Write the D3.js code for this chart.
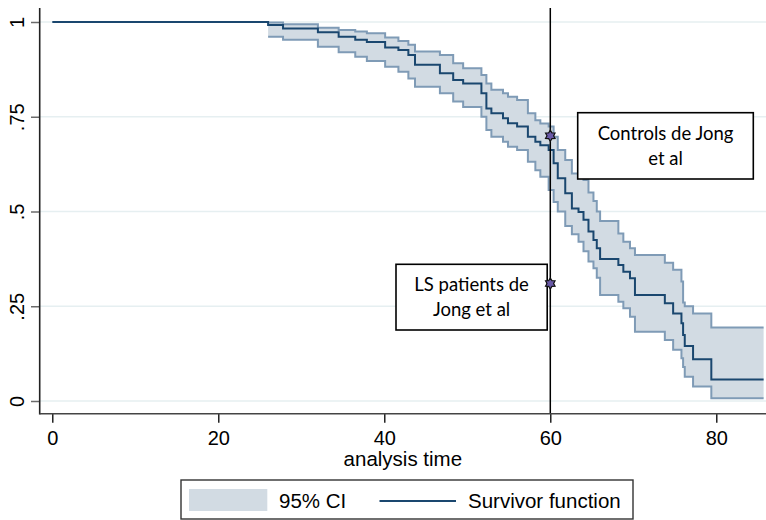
<!DOCTYPE html>
<html>
<head>
    <meta charset="utf-8">
    <title>survivor function</title>
    <script src="https://cdn.jsdelivr.net/npm/d3@7/dist/d3.min.js" type="text/javascript"></script>
</head>
<body style="margin:0;background:#fff;">
<style type="text/css">
    text {font-family: "Liberation Sans", Arial, sans-serif; fill: #000;}
    .note text {font-family: Lato, "Open Sans", sans-serif;}
</style>

<div id="container"></div>

<script type="text/javascript">
    // step times and Kaplan-Meier estimates
    const times = [0, 26.0, 27.8, 32.0, 34.5, 36.5, 37.9, 40.1, 41.7, 42.9, 43.7,
        46.7, 48.3, 49.5, 51.7, 52.3, 52.9, 54.3, 54.9, 56.0, 57.3, 58.2, 58.8, 59.8,
        60.4, 60.9, 61.8, 62.6, 63.4, 64.0, 64.6, 65.2, 65.6, 66.0, 68.2, 68.8, 69.6,
        70.2, 73.8, 74.8, 75.8, 76.0, 76.2, 77.2, 79.4, 85.7];
    const survivor = [1, .992, .983, .973, .961, .953, .947, .933, .926, .913, .887,
        .865, .847, .838, .812, .772, .759, .746, .733, .724, .697, .684, .675, .662,
        .627, .588, .548, .508, .499, .478, .447, .425, .403, .375, .359, .341, .324,
        .280, .258, .231, .205, .174, .145, .110, .057, .057];
    const lower = [null, .961, .953, .935, .920, .908, .897, .882, .869, .851, .829,
        .812, .790, .776, .750, .715, .697, .684, .671, .662, .631, .609, .592, .557,
        .525, .500, .462, .440, .420, .395, .368, .350, .325, .280, .262, .245, .222,
        .183, .161, .135, .113, .090, .064, .038, .007, .007];
    const upper = [null, .999, .994, .985, .979, .975, .970, .959, .950, .940, .922,
        .913, .891, .878, .860, .838, .821, .812, .803, .794, .759, .741, .732, .724,
        .697, .662, .636, .600, .590, .583, .550, .528, .500, .475, .442, .420, .403,
        .385, .365, .346, .315, .260, .250, .231, .194, .194];

    const yTicks = [0, .25, .5, .75, 1];
    const yTickLabels = ['0', '.25', '.5', '.75', '1'];
    const xTicks = [0, 20, 40, 60, 80];

    // reference points at t = 60
    const notes = [
        {label: ['Controls de Jong', 'et al'], t: 60, s: .70},
        {label: ['LS patients de', 'Jong et al'], t: 60, s: .31},
    ];
    const legendLabels = ['95% CI', 'Survivor function'];

    const w = 766;
    const h = 520;
    const ciFill = '#d2dbe3';
    const ciLine = '#7f9bb6';
    const kmLine = '#1a476f';
    const gridColor = '#e6eff1';

    const svg = d3.select('div#container')
        .append('svg')
        .attr('width', w)
        .attr('height', h);

    const plot = {left: 39.7, right: 766, top: 8, bottom: 413.7};

    const x = d3.scaleLinear().domain([0, 80]).range([52.3, 716.3]);
    const y = d3.scaleLinear().domain([0, 1]).range([401, 22]);

    const rows = times.map((t, i) => ({t: t, s: survivor[i], lo: lower[i], hi: upper[i]}));
    const ciRows = rows.filter(d => d.lo !== null);

    // grid
    svg.append('g')
        .selectAll('line')
        .data(yTicks)
        .join('line')
        .attr('x1', plot.left)
        .attr('x2', plot.right)
        .attr('y1', d => y(d))
        .attr('y2', d => y(d))
        .style('stroke', gridColor)
        .style('stroke-width', 1.6);

    // confidence band
    const area = d3.area()
        .curve(d3.curveStepAfter)
        .x(d => x(d.t))
        .y0(d => y(d.lo))
        .y1(d => y(d.hi));

    svg.append('path')
        .datum(ciRows)
        .attr('d', area)
        .style('fill', ciFill)
        .style('stroke', 'none');

    const loLine = d3.line().curve(d3.curveStepAfter).x(d => x(d.t)).y(d => y(d.lo));
    const hiLine = d3.line().curve(d3.curveStepAfter).x(d => x(d.t)).y(d => y(d.hi));
    const kmPath = d3.line().curve(d3.curveStepAfter).x(d => x(d.t)).y(d => y(d.s));

    [loLine, hiLine].map(fn => {
        svg.append('path')
            .datum(ciRows)
            .attr('d', fn)
            .style('fill', 'none')
            .style('stroke', ciLine)
            .style('stroke-width', 2);
    });

    svg.append('path')
        .datum(rows)
        .attr('d', kmPath)
        .style('fill', 'none')
        .style('stroke', kmLine)
        .style('stroke-width', 2);

    // vertical reference line at 60
    svg.append('line')
        .attr('x1', x(60))
        .attr('x2', x(60))
        .attr('y1', plot.top)
        .attr('y2', plot.bottom)
        .style('stroke', '#000')
        .style('stroke-width', 1.5);

    // y axis
    const yAxis = svg.append('g')
        .attr('transform', `translate(${plot.left},0)`)
        .call(d3.axisLeft(y)
            .tickValues(yTicks)
            .tickFormat((d, i) => yTickLabels[i])
            .tickSize(8.7)
            .tickSizeOuter(0));
    yAxis.select('.domain').remove();
    yAxis.selectAll('.tick line').style('stroke', '#6b6b6b').style('stroke-width', 1.5);
    yAxis.selectAll('.tick text')
        .attr('transform', 'rotate(-90)')
        .attr('x', 0)
        .attr('y', -16.2)
        .attr('dy', 0)
        .attr('text-anchor', 'middle')
        .style('font-size', '20px');

    // x axis
    const xAxis = svg.append('g')
        .attr('transform', `translate(0,${plot.bottom})`)
        .call(d3.axisBottom(x)
            .tickValues(xTicks)
            .tickSize(9)
            .tickSizeOuter(0));
    xAxis.select('.domain').remove();
    xAxis.selectAll('.tick line').style('stroke', '#000').style('stroke-width', 1.3);
    xAxis.selectAll('.tick text')
        .attr('y', 31.5)
        .attr('dy', 0)
        .style('font-size', '20px');

    svg.append('line')
        .attr('x1', plot.left).attr('x2', plot.left)
        .attr('y1', plot.top).attr('y2', plot.bottom + 0.8)
        .style('stroke', '#222').style('stroke-width', 1.6);
    svg.append('line')
        .attr('x1', plot.left).attr('x2', plot.right)
        .attr('y1', plot.bottom).attr('y2', plot.bottom)
        .style('stroke', '#444').style('stroke-width', 1.6);

    svg.append('text')
        .attr('x', (plot.left + plot.right) / 2)
        .attr('y', 466)
        .attr('text-anchor', 'middle')
        .style('font-size', '20.5px')
        .text('analysis time');

    // annotation boxes and markers
    const boxes = [
        {x: 577.7, y: 112.7, w: 175.6, h: 66.3},
        {x: 396, y: 264.3, w: 151.2, h: 65.7},
    ];
    const note = svg.append('g').attr('class', 'note');
    notes.map((d, i) => {
        const b = boxes[i];
        note.append('rect')
            .attr('x', b.x).attr('y', b.y)
            .attr('width', b.w).attr('height', b.h)
            .style('fill', '#fff')
            .style('stroke', '#000')
            .style('stroke-width', 1.6);
        d.label.map((line, j) => {
            note.append('text')
                .attr('x', b.x + b.w / 2)
                .attr('y', b.y + b.h / 2 - 5.8 + j * 24.5)
                .attr('text-anchor', 'middle')
                .style('font-size', '18.5px')
                .text(line);
        });
    });

    function hexagram(r) {
        const p = [];
        d3.range(6).map(k => {
            const a1 = Math.PI / 2 + k * Math.PI / 3;
            const a2 = a1 + Math.PI / 6;
            p.push([r * Math.cos(a1), r * Math.sin(a1)]);
            p.push([0.6 * r * Math.cos(a2), 0.6 * r * Math.sin(a2)]);
        });
        return 'M' + p.map(q => q.join(' ')).join('L') + 'Z';
    }

    svg.append('g')
        .selectAll('path')
        .data(notes)
        .join('path')
        .attr('transform', d => `translate(${x(d.t)},${y(d.s)})`)
        .attr('d', hexagram(5.5))
        .style('fill', '#6a5aa8')
        .style('stroke', '#111')
        .style('stroke-width', 1.2);

    // legend
    const legend = svg.append('g');
    legend.append('rect')
        .attr('x', 181).attr('y', 480)
        .attr('width', 452).attr('height', 39)
        .style('fill', '#fff')
        .style('stroke', '#333')
        .style('stroke-width', 1.4);
    legend.append('rect')
        .attr('x', 189).attr('y', 489)
        .attr('width', 78.3).attr('height', 22)
        .style('fill', ciFill);
    legend.append('text')
        .attr('x', 279).attr('y', 508)
        .style('font-size', '20.5px')
        .text(legendLabels[0]);
    legend.append('line')
        .attr('x1', 379.5).attr('x2', 456)
        .attr('y1', 501).attr('y2', 501)
        .style('stroke', kmLine)
        .style('stroke-width', 2);
    legend.append('text')
        .attr('x', 468).attr('y', 508)
        .style('font-size', '20.5px')
        .text(legendLabels[1]);
</script>
</body>
</html>
